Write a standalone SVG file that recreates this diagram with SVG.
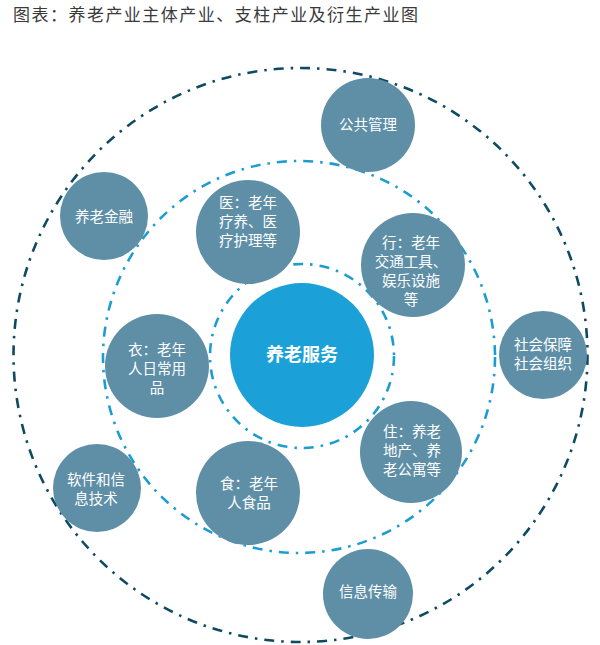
<svg xmlns="http://www.w3.org/2000/svg" width="600" height="645" viewBox="0 0 600 645">
<style>
.ring{fill:none;stroke-width:2.6}
.outer{stroke:#0f4a63;stroke-dasharray:10 7 2.5 7}
.mid{stroke:#1c9dd0;stroke-dasharray:10 7 2.5 7}
.node circle{fill:#5e8fa7}
.node text{fill:#ffffff;font-family:"Noto Sans CJK SC","Noto Sans",sans-serif;font-size:14.5px;text-anchor:middle}
.title{fill:#3a3a3a;font-family:"Noto Sans CJK SC","Noto Sans",sans-serif;font-size:17px}
</style>
<rect width="600" height="645" fill="#ffffff"/>
<text class="title" x="13" y="21" textLength="405" lengthAdjust="spacing">图表：养老产业主体产业、支柱产业及衍生产业图</text>
<g id="connectors">
<circle class="ring outer" cx="300.5" cy="355" r="287"/>
<circle class="ring mid" cx="299" cy="357" r="196"/>
<circle class="ring mid" cx="302" cy="356" r="92"/>
</g>
<g id="center" class="node">
<circle cx="302" cy="355" r="72" style="fill:#1ba1d8"/>
<text x="302" y="361" style="font-size:18px;font-weight:bold">养老服务</text>
</g>
<g id="n-gonggong" class="node">
<circle cx="368" cy="125" r="47"/>
<text x="368" y="130">公共管理</text>
</g>
<g id="n-jinrong" class="node">
<circle cx="104" cy="216" r="44"/>
<text x="104" y="222">养老金融</text>
</g>
<g id="n-yi-med" class="node">
<circle cx="248" cy="232" r="52"/>
<text x="248" y="208">医：老年</text>
<text x="248" y="227">疗养、医</text>
<text x="248" y="246">疗护理等</text>
</g>
<g id="n-xing" class="node">
<circle cx="413" cy="265" r="52"/>
<text x="411" y="248">行：老年</text>
<text x="411" y="267">交通工具、</text>
<text x="411" y="286">娱乐设施</text>
<text x="411" y="305">等</text>
</g>
<g id="n-shehui" class="node">
<circle cx="543" cy="355" r="44"/>
<text x="543" y="350">社会保障</text>
<text x="543" y="369">社会组织</text>
</g>
<g id="n-yi-cloth" class="node">
<circle cx="157" cy="366" r="52"/>
<text x="157" y="355">衣：老年</text>
<text x="157" y="374">人日常用</text>
<text x="157" y="393">品</text>
</g>
<g id="n-zhu" class="node">
<circle cx="411" cy="452" r="51"/>
<text x="412" y="437">住：养老</text>
<text x="412" y="456">地产、养</text>
<text x="412" y="475">老公寓等</text>
</g>
<g id="n-ruanjian" class="node">
<circle cx="97" cy="488" r="44"/>
<text x="96" y="485">软件和信</text>
<text x="96" y="504">息技术</text>
</g>
<g id="n-shi" class="node">
<circle cx="248" cy="493" r="52"/>
<text x="249" y="489">食：老年</text>
<text x="249" y="508">人食品</text>
</g>
<g id="n-xinxi" class="node">
<circle cx="368" cy="594" r="45"/>
<text x="368" y="597">信息传输</text>
</g>
</svg>
